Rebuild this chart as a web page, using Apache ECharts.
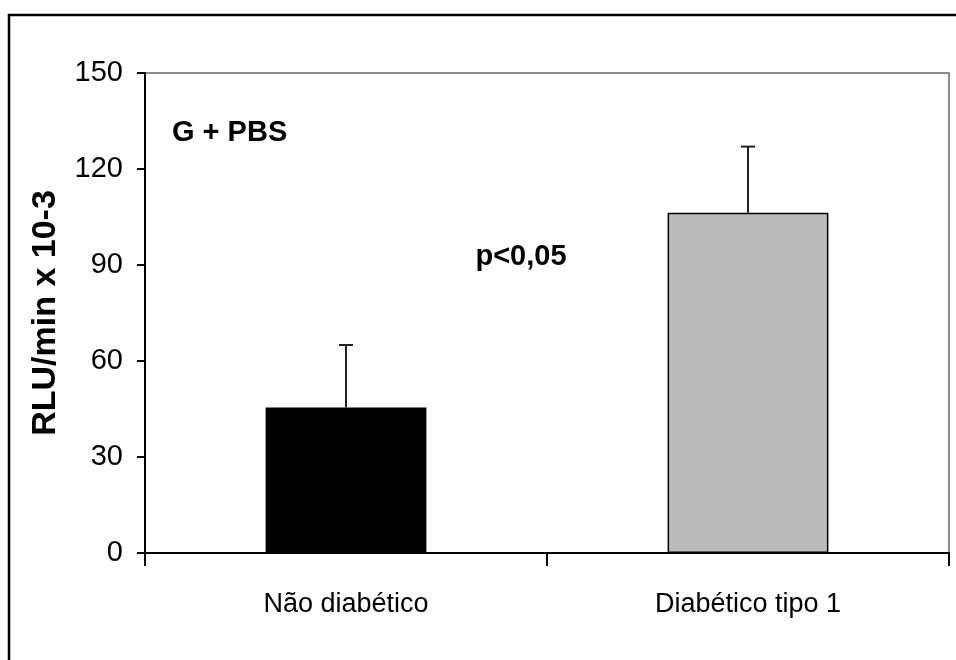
<!DOCTYPE html>
<html>
<head>
<meta charset="utf-8">
<style>
  html, body { margin: 0; padding: 0; background: #ffffff; }
  #chart { width: 956px; height: 660px; }
</style>
<script src="https://cdn.jsdelivr.net/npm/echarts@6/dist/echarts.min.js"></script>
</head>
<body>
<div id="chart"></div>
<script>
// Groups, mean chemiluminescence (RLU/min x 10-3) and standard deviation
const categories = ['Não diabético', 'Diabético tipo 1'];
const means = [45.5, 106.3];
const deviations = [19.5, 20.7];
const barColors = ['#000000', '#bbbbbb'];

// Y axis scale
const yMin = 0;
const yMax = 150;
const yStep = 30;

const FONT = '"Liberation Sans", Arial, sans-serif';

const chart = echarts.init(document.getElementById('chart'), null, { renderer: 'canvas' });

const barData = means.map((v, i) => ({
  value: v,
  itemStyle: {
    color: barColors[i],
    borderColor: '#000000',
    borderWidth: i === 0 ? 0 : 1.5
  }
}));

const errorData = means.map((v, i) => [i, v, v + deviations[i]]);

chart.setOption({
  animation: false,
  backgroundColor: '#ffffff',
  grid: {
    left: 145,
    right: 7,
    top: 73,
    bottom: 107,
    show: true,
    borderColor: '#8c8c8c',
    borderWidth: 2,
    backgroundColor: 'transparent'
  },
  xAxis: {
    type: 'category',
    data: categories,
    axisLine: { show: true, lineStyle: { color: '#000000', width: 2 } },
    axisTick: { show: true, alignWithLabel: false, length: 13, lineStyle: { color: '#000000', width: 2 } },
    axisLabel: {
      color: '#000000',
      fontFamily: FONT,
      fontSize: 27,
      margin: 38
    },
    splitLine: { show: false }
  },
  yAxis: {
    type: 'value',
    min: yMin,
    max: yMax,
    interval: yStep,
    name: 'RLU/min x 10-3',
    nameLocation: 'middle',
    nameRotate: 90,
    nameGap: 82,
    nameTextStyle: {
      color: '#000000',
      fontFamily: FONT,
      fontWeight: 'bold',
      fontSize: 34
    },
    axisLine: { show: true, lineStyle: { color: '#000000', width: 2 } },
    axisTick: { show: true, length: 8, lineStyle: { color: '#000000', width: 2 } },
    axisLabel: {
      color: '#000000',
      fontFamily: FONT,
      fontSize: 29,
      margin: 22
    },
    splitLine: { show: false }
  },
  series: [
    {
      type: 'bar',
      data: barData,
      barWidth: '40%',
      z: 2
    },
    {
      type: 'custom',
      data: errorData,
      z: 3,
      renderItem: function (params, api) {
        const x = api.value(0);
        const base = api.coord([x, api.value(1)]);
        const top = api.coord([x, api.value(2)]);
        const cap = 7;
        const style = { stroke: '#222222', lineWidth: 2 };
        return {
          type: 'group',
          children: [
            { type: 'line', shape: { x1: base[0], y1: base[1], x2: top[0], y2: top[1] }, style: style },
            { type: 'line', shape: { x1: top[0] - cap, y1: top[1], x2: top[0] + cap, y2: top[1] }, style: style }
          ]
        };
      }
    }
  ],
  graphic: [
    {
      type: 'rect',
      shape: { x: 9, y: 15, width: 1000, height: 700 },
      style: { fill: 'none', stroke: '#000000', lineWidth: 2.5 },
      silent: true,
      z: 10
    },
    {
      type: 'text',
      x: 172,
      y: 133,
      style: {
        text: 'G + PBS',
        fill: '#000000',
        font: 'bold 29px ' + FONT,
        textAlign: 'left',
        textVerticalAlign: 'middle'
      }
    },
    {
      type: 'text',
      x: 521,
      y: 257,
      style: {
        text: 'p<0,05',
        fill: '#000000',
        font: 'bold 29px ' + FONT,
        textAlign: 'center',
        textVerticalAlign: 'middle'
      }
    }
  ]
});
</script>
</body>
</html>
